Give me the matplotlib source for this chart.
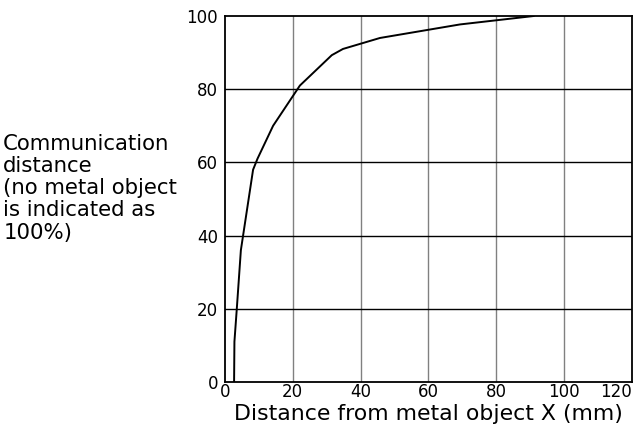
import matplotlib.pyplot as plt

# distance from metal object (mm) vs communication distance (%)
dist_mm = [2.7, 2.8, 3.5, 4.7, 8.3, 9.6, 14.2, 22.1, 31.5, 34.8, 45.7, 69.3, 91.0]
comm_pct = [0, 11, 20, 36, 58, 61, 70, 81, 89.3, 91, 94, 97.7, 100]
x_ticks = [0, 20, 40, 60, 80, 100, 120]
y_ticks = [0, 20, 40, 60, 80, 100]

plt.rcParams['font.family'] = ['DejaVu Sans']

fig = plt.figure(figsize=(6.39, 4.33), dpi=100)
ax = fig.add_axes([0.352, 0.118, 0.637, 0.845])

for xv in x_ticks[1:-1]:
    ax.axvline(xv, color='#808080', lw=1.0, zorder=1)
for yv in y_ticks[1:-1]:
    ax.axhline(yv, color='black', lw=1.0, zorder=1)

ax.plot(dist_mm, comm_pct, color='black', lw=1.4, zorder=3)

ax.set_xlim(0, 120)
ax.set_ylim(0, 100)
ax.set_xticks(x_ticks)
ax.set_yticks(y_ticks)
ax.tick_params(length=0, labelsize=12)
ax.tick_params(axis='x', pad=1)
ax.tick_params(axis='y', pad=5)
ax.get_xticklabels()[-1].set_horizontalalignment('right')
for s in ax.spines.values():
    s.set_linewidth(1.3)

ax.set_xlabel('Distance from metal object X (mm)', fontsize=15.8, labelpad=2)
fig.text(0.005, 0.565, 'Communication\ndistance\n(no metal object\nis indicated as\n100%)',
         fontsize=15.3, ha='left', va='center', linespacing=1.13)

fig.savefig('out.png', dpi=100)
